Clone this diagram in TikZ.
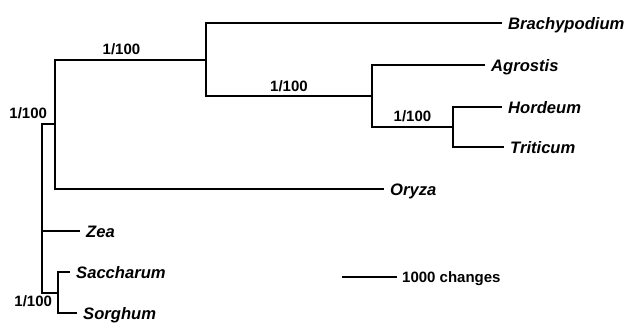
\documentclass[tikz,border=0pt]{standalone}
\usepackage{fontspec}
\setmainfont{Liberation Sans}
\usepackage{tikz}
\usetikzlibrary{positioning, calc}

\begin{document}
\begin{tikzpicture}[
        x=1pt, y=-1pt,
        branch/.style={line width=2pt},
        taxon/.style={anchor=west, inner xsep=6pt, inner ysep=0pt, text height=12pt, text depth=0pt, font=\fontsize{16.6}{19}\selectfont\bfseries\itshape},
        support/.style={inner sep=1pt, text depth=0pt, font=\fontsize{15}{17}\selectfont\bfseries}
    ]
    \useasboundingbox (0,0) rectangle (634,322);

    % Internal nodes
    \coordinate (rt) at (42,208);
    \coordinate (nA) at (55,124);
    \coordinate (nB) at (206,59.5);
    \coordinate (nC) at (372,96);
    \coordinate (nD) at (453,126.5);
    \coordinate (nS) at (58,292.5);

    % Taxa
    \node[taxon] (brachy) at (502,23) {Brachypodium};
    \node[taxon] (agros) at (485,65) {Agrostis};
    \node[taxon] (horde) at (502,107) {Hordeum};
    \node[taxon] (triti) at (504,147) {Triticum};
    \node[taxon] (oryza) at (384,189) {Oryza};
    \node[taxon] (zea) at (80,231) {Zea};
    \node[taxon] (sacch) at (70,272) {Saccharum};
    \node[taxon] (sorgh) at (77,313) {Sorghum};

    % Branches
    \draw[branch] (rt) |- node[support, pos=0.5, anchor=south east, xshift=7pt, yshift=3.5pt] {1/100} (nA);
    \draw[branch] (rt) |- (zea.west);
    \draw[branch] (rt) |- node[support, pos=1, anchor=south east, xshift=-4pt, yshift=-15.5pt] {1/100} (nS);
    \draw[branch] (nA) |- node[support, pos=0.72, above=3pt] {1/100} (nB);
    \draw[branch] (nA) |- (oryza.west);
    \draw[branch] (nB) |- (brachy.west);
    \draw[branch] (nB) |- node[support, pos=0.75, above=3pt] {1/100} (nC);
    \draw[branch] (nC) |- (agros.west);
    \draw[branch] (nC) |- node[support, pos=0.75, above=3pt] {1/100} (nD);
    \draw[branch] (nD) |- (horde.west);
    \draw[branch] (nD) |- (triti.west);
    \draw[branch] (nS) |- (sacch.west);
    \draw[branch] (nS) |- (sorgh.west);

    % Scale bar
    \coordinate (sbL) at (342,277);
    \node[support, anchor=west, inner xsep=5pt, text height=10.7pt] (sbtxt) at (397,277) {1000 changes};
    \draw[branch] (sbL) -- (sbtxt.west);

\end{tikzpicture}
\end{document}
